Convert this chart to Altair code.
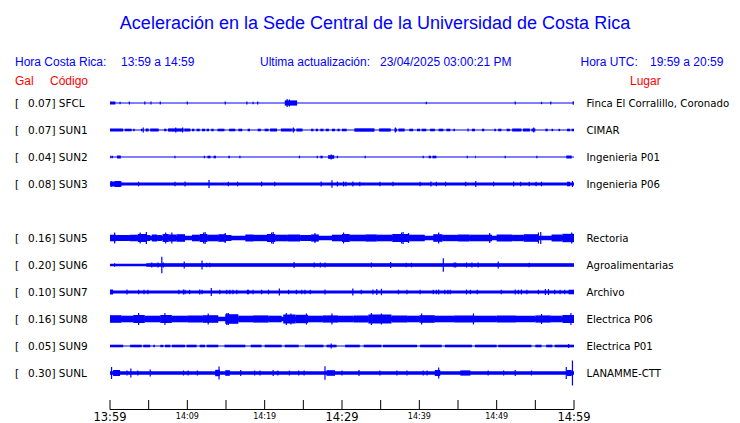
import altair as alt
import pandas as pd

# ---------------- data ----------------
CODES = ["SFCL", "SUN1", "SUN2", "SUN3", "SUN5", "SUN6", "SUN7", "SUN8", "SUN9", "SUNL"]
GALS = [0.07, 0.07, 0.04, 0.08, 0.16, 0.20, 0.10, 0.16, 0.05, 0.30]
PLACES = ["Finca El Corralillo, Coronado", "CIMAR", "Ingenieria P01", "Ingenieria P06",
          "Rectoria", "Agroalimentarias", "Archivo", "Electrica P06", "Electrica P01", "LANAMME-CTT"]
ROWS = [0, 1, 2, 3, 5, 6, 7, 8, 9, 10]          # SUN4 slot is empty
BASE_HALF = [0.5, 0.6, 0.5, 1.6, 2.3, 1.3, 1.5, 2.3, 0.5, 1.7]   # trace half-thickness

# bursts: (start minute, end minute, half amplitude)
SFCL_BURSTS = [(0.0, 0.7, 1.5), (22.6, 24.2, 2.6)]
SFCL_SPIKES = [(1.3, 1.2), (2.5, 1.5), (4.5, 1.5), (5.3, 1.5), (6.5, 1.5), (10.0, 1.5), (14.9, 1.5),
               (17.7, 1.5), (18.5, 1.2), (19.1, 1.5), (22.9, 4.0), (23.2, 3.5), (40.9, 1.2), (52.4, 1.5),
               (55.8, 1.2), (57.0, 1.5), (59.9, 1.8)]

SUN1_BURSTS = [(0, 1.7, 1.5), (1.9, 2.8, 1.3), (3.0, 3.2, 1.3), (4.0, 4.2, 1.3), (4.6, 5.0, 1.5),
               (5.2, 6.3, 1.5), (7.0, 7.3, 1.3), (7.5, 9.5, 1.6), (9.6, 10.4, 1.5), (10.6, 10.9, 1.3),
               (11.2, 11.6, 1.3), (11.9, 12.3, 1.3), (12.5, 12.8, 1.3), (13.1, 13.4, 1.3), (13.9, 14.8, 1.3),
               (15.4, 16.2, 1.3), (16.6, 17.1, 1.3), (17.8, 18.1, 1.3), (19.1, 19.5, 1.3), (20.0, 20.5, 1.3),
               (20.7, 21.6, 1.5), (22.1, 23.5, 1.5), (23.6, 23.9, 1.5), (24.1, 24.9, 1.5), (26.0, 26.3, 1.3),
               (26.6, 26.9, 1.3), (27.2, 27.6, 1.3), (27.9, 28.3, 1.3), (28.7, 29.1, 1.3), (29.4, 29.7, 1.3),
               (30.0, 30.6, 1.3), (31.6, 34.2, 1.7), (34.8, 36.3, 1.6), (36.8, 37.1, 1.5), (37.3, 38.1, 1.5),
               (38.7, 39.2, 1.3), (39.7, 40.1, 1.3), (40.3, 40.9, 1.3), (41.4, 42.0, 1.3), (42.5, 43.1, 1.3),
               (43.5, 44.0, 1.3), (44.4, 44.6, 1.2), (46.8, 47.2, 1.3), (48.1, 48.4, 1.3), (49.7, 49.9, 1.2),
               (50.2, 50.6, 1.3), (51.3, 51.7, 1.3), (52.0, 53.2, 1.5), (53.4, 54.3, 1.5), (54.5, 55.0, 1.5),
               (56.3, 56.6, 1.3), (57.1, 57.3, 1.2), (58.0, 58.2, 1.2), (59.1, 59.5, 1.3), (59.7, 60.0, 1.3)]
SUN1_SPIKES = [(4.3, 2.5), (8.5, 2.5), (9.4, 2.5), (23.7, 2.5), (36.9, 2.5), (46.3, 1.5), (54.8, 2.5)]

SUN2_BURSTS = [(0.9, 1.4, 1.5), (12.6, 13.0, 1.3), (13.4, 13.7, 1.3), (15.3, 15.5, 1.3), (27.2, 27.5, 1.3),
               (28.2, 29.0, 1.8), (41.2, 41.5, 1.3), (41.7, 42.2, 1.3), (47.2, 47.3, 1.3), (59.0, 59.7, 1.5)]
SUN2_SPIKES = [(0.1, 1.2), (0.3, 1.2), (8.4, 1.2), (12.2, 1.2), (16.8, 1.2), (24.5, 1.3), (26.8, 1.2),
               (28.6, 2.5), (29.4, 1.3), (33.0, 1.2), (40.5, 1.2), (46.2, 1.3), (51.1, 1.2), (55.2, 1.2)]

SUN3_BURSTS = [(0.0, 1.5, 2.5), (0.6, 1.4, 3.0), (59.1, 59.5, 2.3)]
SUN3_SPIKES = [(0.2, 2.8), (3.7, 2.3), (8.4, 2.3), (9.7, 2.5), (12.8, 4.0), (15.3, 2.3), (16.5, 2.3),
               (19.6, 2.5), (21.3, 2.3), (27.3, 2.5), (28.7, 3.8), (29.4, 2.5), (30.2, 2.5), (30.5, 2.3),
               (31.4, 2.5), (32.3, 2.3), (34.9, 2.3), (36.6, 2.3), (40.1, 2.3), (41.5, 2.5), (42.2, 2.3),
               (43.4, 2.3), (46.0, 2.3), (47.3, 3.0), (49.6, 2.3), (52.2, 2.5), (53.1, 2.3), (54.2, 2.3),
               (55.1, 2.3), (55.8, 2.3), (59.8, 3.0)]

SUN5_BURSTS = [(0, 0.8, 3.3), (0.8, 2.5, 3.0), (2.5, 3.6, 3.3), (3.6, 4.8, 4.0), (4.8, 5.2, 3.0),
               (5.4, 6.1, 3.5), (6.1, 6.7, 3.0), (6.8, 7.6, 4.0), (7.6, 8.6, 3.5), (8.6, 9.7, 3.8),
               (10.6, 11.6, 3.3), (11.6, 12.6, 4.0), (12.6, 14.0, 3.3), (14.0, 15.0, 3.8), (15.0, 15.7, 3.0),
               (17.5, 18.6, 3.5), (18.6, 20.3, 3.2), (20.3, 21.4, 4.0), (21.4, 23.0, 3.3), (23.0, 24.6, 3.5),
               (24.6, 26.0, 3.0), (26.0, 27.0, 3.6), (28.7, 30.0, 3.3), (30.0, 31.0, 4.0), (31.0, 33.0, 3.3),
               (33.0, 34.5, 3.6), (34.5, 36.5, 3.3), (36.5, 38.7, 4.0), (38.7, 40.7, 3.3), (41.8, 43.0, 3.8),
               (43.0, 45.0, 3.2), (45.0, 46.5, 3.5), (46.5, 49.4, 3.3), (50.0, 52.0, 3.5), (52.0, 53.5, 3.2),
               (53.5, 55.4, 3.8), (57.1, 58.5, 3.5), (58.5, 60.0, 4.2)]
SUN5_SPIKES = [(0.6, 5.5), (3.9, 5.5), (4.7, 6.0), (7.2, 5.5), (8.0, 5.5), (12.1, 5.5), (12.3, 6.0),
               (14.9, 5.0), (20.9, 5.5), (21.1, 6.0), (26.5, 5.0), (30.2, 5.5), (37.7, 5.5), (37.9, 6.0),
               (38.6, 5.0), (42.5, 5.5), (49.1, 5.0), (55.4, 5.5), (55.7, 6.0), (59.7, 5.5)]

SUN6_BURSTS = [(4.7, 60.0, 1.8)]
SUN6_SPIKES = [(0.6, 1.8), (5.4, 2.5), (6.2, 2.5), (6.7, 8.3), (6.9, 2.5), (9.6, 3.5), (11.9, 4.5),
               (12.5, 2.2), (12.9, 2.2), (23.8, 3.0), (26.4, 2.5), (27.2, 2.5), (27.8, 2.5), (33.8, 2.5),
               (36.3, 3.0), (38.3, 2.3), (39.0, 2.3), (43.1, 6.7), (44.5, 2.5), (44.7, 2.5), (46.1, 2.5),
               (46.8, 2.5), (47.6, 2.5), (50.2, 3.5), (54.2, 2.2)]

SUN7_BURSTS = [(0.0, 0.4, 2.5), (17.7, 18.0, 2.3), (59.3, 60.0, 2.3)]
SUN7_SPIKES = [(2.2, 2.5), (3.7, 2.3), (4.4, 2.3), (4.9, 2.3), (8.9, 2.3), (9.5, 2.5), (9.7, 2.3),
               (10.3, 2.3), (11.6, 2.5), (11.9, 2.3), (13.1, 4.0), (14.2, 2.3), (15.1, 2.3), (15.5, 2.3),
               (15.9, 2.3), (16.4, 2.3), (18.5, 2.3), (19.6, 2.3), (20.5, 2.3), (21.9, 3.5), (23.1, 2.3),
               (24.1, 2.3), (24.8, 2.3), (25.2, 2.3), (25.9, 2.3), (27.8, 2.5), (31.4, 3.5), (32.5, 2.3),
               (34.0, 2.5), (34.5, 3.0), (35.1, 3.2), (37.3, 2.3), (38.4, 2.3), (40.1, 2.3), (41.8, 2.3),
               (42.2, 2.3), (42.5, 2.5), (43.3, 2.3), (43.7, 2.3), (44.0, 2.3), (46.1, 2.5), (46.6, 2.3),
               (47.5, 2.3), (50.6, 2.3), (52.4, 2.5), (52.8, 2.3), (53.2, 2.5), (53.9, 2.3), (55.4, 2.3),
               (56.3, 3.0), (56.7, 3.0), (57.5, 2.3), (58.2, 2.3), (58.8, 2.3)]

SUN8_BURSTS = [(0, 1.5, 3.8), (1.5, 3.0, 3.3), (3.0, 4.5, 4.0), (4.5, 6.5, 3.3), (6.5, 8.0, 4.0),
               (8.0, 10.0, 3.3), (10.0, 12.0, 3.5), (12.0, 14.0, 3.8), (14.9, 16.6, 4.8), (16.6, 18.5, 3.3),
               (18.5, 20.5, 3.6), (20.5, 22.2, 3.3), (22.4, 24.0, 4.5), (24.0, 25.6, 4.2), (25.6, 27.5, 3.3),
               (27.5, 29.5, 3.6), (29.5, 31.5, 3.3), (31.5, 33.4, 3.5), (33.4, 36.4, 4.5), (36.4, 38.5, 3.5),
               (38.5, 40.0, 3.3), (40.0, 42.0, 3.8), (42.0, 44.5, 3.3), (44.5, 47.0, 3.5), (47.0, 50.0, 3.3),
               (50.0, 52.5, 3.5), (52.5, 55.0, 3.3), (55.0, 57.0, 3.6), (57.0, 58.5, 3.3), (58.5, 60.0, 4.0)]
SUN8_SPIKES = [(3.7, 6.0), (7.1, 6.0), (12.7, 5.5), (15.1, 6.0), (15.3, 6.0), (22.8, 6.0), (23.4, 5.5),
               (25.4, 5.5), (28.7, 5.5), (33.8, 6.0), (35.1, 5.5), (40.3, 5.5), (47.0, 5.5), (55.8, 5.0),
               (59.6, 6.0)]

SUN9_BURSTS = [(0, 1.7, 1.3), (2.6, 4.1, 1.3), (4.3, 5.2, 1.3), (5.6, 5.8, 1.2), (6.5, 6.9, 1.2),
               (7.1, 7.8, 1.3), (8.0, 9.7, 1.3), (9.9, 11.2, 1.3), (11.6, 12.3, 1.3), (12.5, 14.0, 1.3),
               (14.8, 17.5, 1.3), (18.2, 19.6, 1.3), (20.0, 22.2, 1.3), (22.6, 24.4, 1.3), (25.2, 27.6, 1.3),
               (28.0, 29.3, 1.3), (30.4, 32.3, 1.3), (32.8, 35.1, 1.3), (35.3, 39.7, 1.3), (40.1, 42.9, 1.3),
               (43.3, 46.8, 1.3), (47.2, 50.0, 1.3), (50.2, 54.5, 1.3), (55.0, 55.8, 1.3), (56.4, 57.2, 1.3),
               (57.5, 60.0, 1.3)]
SUN9_SPIKES = [(28.6, 2.5), (59.3, 2.0)]

SUNL_BURSTS = [(0.4, 1.3, 3.0), (13.6, 14.2, 3.2), (14.9, 15.5, 2.8), (28.0, 29.1, 2.8), (42.0, 42.7, 3.0),
               (45.3, 46.6, 2.6), (59.1, 59.7, 3.0)]
SUNL_SPIKES = [(0.2, 6.0), (2.2, 2.5), (2.7, 4.5), (3.6, 2.5), (5.2, 3.5), (9.5, 2.5), (10.1, 2.5),
               (11.3, 2.5), (14.1, 6.5), (16.9, 3.0), (18.7, 2.5), (19.4, 2.5), (21.1, 3.0), (21.7, 2.5),
               (23.2, 2.5), (24.4, 2.5), (25.1, 2.5), (27.8, 6.8), (30.0, 2.5), (32.2, 3.0), (34.9, 2.5),
               (37.1, 2.5), (38.4, 2.5), (40.5, 2.5), (41.0, 2.5), (42.5, 5.5), (48.9, 2.5), (50.9, 2.5),
               (52.4, 3.0), (54.5, 2.5), (59.0, 6.0), (59.8, 12.5)]

BURSTS = [SFCL_BURSTS, SUN1_BURSTS, SUN2_BURSTS, SUN3_BURSTS, SUN5_BURSTS,
          SUN6_BURSTS, SUN7_BURSTS, SUN8_BURSTS, SUN9_BURSTS, SUNL_BURSTS]
SPIKES = [SFCL_SPIKES, SUN1_SPIKES, SUN2_SPIKES, SUN3_SPIKES, SUN5_SPIKES,
          SUN6_SPIKES, SUN7_SPIKES, SUN8_SPIKES, SUN9_SPIKES, SUNL_SPIKES]

TICK_MINUTES = [0, 5, 10, 15, 20, 25, 30, 35, 40, 45, 50, 55, 60]
BIG_LABELS = [(0, "13:59"), (30, "14:29"), (60, "14:59")]
SMALL_LABELS = [(10, "14:09"), (20, "14:19"), (40, "14:39"), (50, "14:49")]

TITLE = "Aceleración en la Sede Central de la Universidad de Costa Rica"

# ---------------- build tables ----------------
ROW_PX = 27.0
base_rows, burst_rows, spike_rows, label_rows = [], [], [], []
for code, gal, place, r, bh, bl, sl in zip(CODES, GALS, PLACES, ROWS, BASE_HALF, BURSTS, SPIKES):
    base_rows.append({"x0": 0, "x1": 60, "y0": r - bh / ROW_PX, "y1": r + bh / ROW_PX})
    for a, b, h in bl:
        burst_rows.append({"x0": a, "x1": b, "y0": r - h / ROW_PX, "y1": r + h / ROW_PX})
    for t, h in sl:
        spike_rows.append({"t": t, "y0": r - h / ROW_PX, "y1": r + h / ROW_PX})
    label_rows.append({"row": r, "lab": f"{gal:.2f}] {code}", "place": place, "br": "["})

base_df = pd.DataFrame(base_rows)
burst_df = pd.DataFrame(burst_rows)
spike_df = pd.DataFrame(spike_rows)
label_df = pd.DataFrame(label_rows)

BLUE = "#0000ff"
RED = "#ff0000"
XS = alt.Scale(domain=[0, 60], range=[102, 566], nice=False, zero=False)
YS = alt.Scale(domain=[0, 10], range=[95, 365], nice=False, zero=False)

def xq(f):
    return alt.X(f, type="quantitative", scale=XS, axis=None)

def yq(f):
    return alt.Y(f, type="quantitative", scale=YS, axis=None)

base = alt.Chart(base_df).mark_rect(color=BLUE).encode(x=xq("x0"), x2="x1", y=yq("y0"), y2="y1")
bursts = alt.Chart(burst_df).mark_rect(color=BLUE).encode(x=xq("x0"), x2="x1", y=yq("y0"), y2="y1")
spikes = alt.Chart(spike_df).mark_rule(color=BLUE, strokeWidth=1.2).encode(x=xq("t"), y=yq("y0"), y2="y1")

lab_font = dict(font="DejaVu Sans", fontSize=10.5, color="black", baseline="middle", align="left")
place_font = dict(font="DejaVu Sans", fontSize=10.2, color="black", baseline="middle", align="left")
left_br = alt.Chart(label_df).mark_text(x=7, dy=0.5, **lab_font).encode(y=yq("row"), text="br:N")
left_lab = alt.Chart(label_df).mark_text(x=20, dy=0.5, **lab_font).encode(y=yq("row"), text="lab:N")
right_lab = alt.Chart(label_df).mark_text(x=578.5, dy=0.5, **place_font).encode(y=yq("row"), text="place:N")

def txt(s, x, y, size, color, font="Liberation Sans", align="left"):
    return alt.Chart(alt.Data(values=[{"t": s}])).mark_text(
        x=x, y=y, fontSize=size, color=color, font=font, align=align, baseline="alphabetic"
    ).encode(text="t:N")

headers = [
    txt(TITLE, 367, 21, 18, BLUE, align="center"),
    txt("Hora Costa Rica:", 7, 57.5, 12, BLUE),
    txt("13:59 a 14:59", 113, 57.5, 12, BLUE),
    txt("Ultima actualización:", 252, 57.5, 12, BLUE),
    txt("23/04/2025 03:00:21 PM", 372, 57.5, 12, BLUE),
    txt("Hora UTC:", 572.5, 57.5, 12, BLUE),
    txt("19:59 a 20:59", 642, 57.5, 12, BLUE),
    txt("Gal", 7, 77, 12, RED),
    txt("Código", 42, 77, 12, RED),
    txt("Lugar", 622, 77, 12, RED),
]

axis_line = alt.Chart(alt.Data(values=[{"a": 0, "b": 60}])).mark_rule(color="black", strokeWidth=1).encode(
    x=xq("a"), x2="b", y=alt.value(401.5))
ticks = alt.Chart(pd.DataFrame({"t": TICK_MINUTES})).mark_rule(color="black", strokeWidth=1).encode(
    x=xq("t"), y=alt.value(392), y2=alt.value(401.5))
big_df = pd.DataFrame(BIG_LABELS, columns=["t", "s"])
small_df = pd.DataFrame(SMALL_LABELS, columns=["t", "s"])
big_lab = alt.Chart(big_df).mark_text(font="DejaVu Sans", fontSize=11.5, color="black", baseline="alphabetic",
                                      align="center", y=412.5, fontWeight="normal").encode(x=xq("t"), text="s:N")
small_lab = alt.Chart(small_df).mark_text(font="DejaVu Sans", fontSize=8, color="black", baseline="alphabetic",
                                          align="center", y=410.5).encode(x=xq("t"), text="s:N")

chart = alt.layer(
    base, bursts, spikes, left_br, left_lab, right_lab, *headers, axis_line, ticks, big_lab, small_lab
).properties(
    width=724, height=415, autosize=alt.AutoSizeParams(type="none"), padding=0
).configure_view(strokeWidth=0).resolve_scale(x="shared", y="shared")

chart.save("out.html", embed_options={"renderer": "svg", "actions": False})
